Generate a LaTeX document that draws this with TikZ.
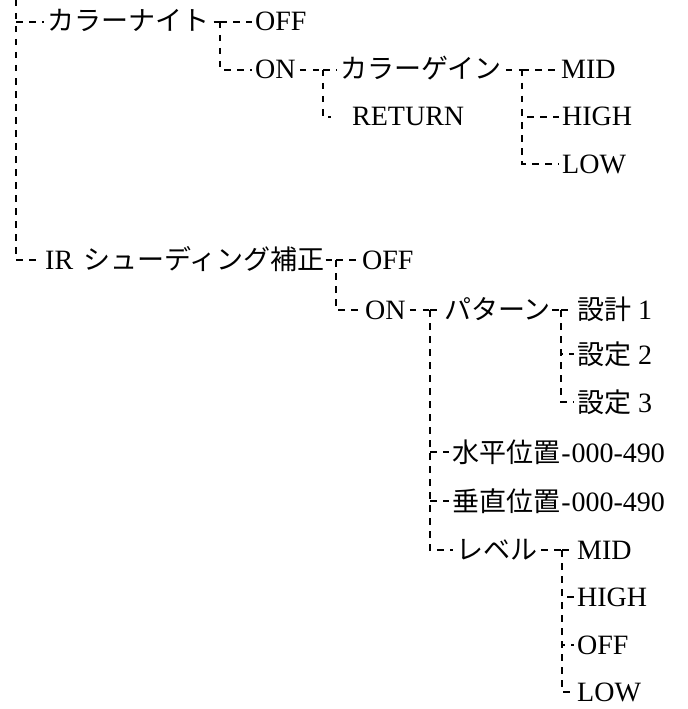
\documentclass[tikz,border=0pt]{standalone}
\usepackage{fontspec}
\setmainfont{Liberation Serif}
\newfontfamily\jp[Scale=0.965]{Noto Sans CJK JP}
\begin{document}
\begin{tikzpicture}[x=1bp,y=-1bp,
  lbl/.style={anchor=base west, inner sep=0pt, font=\fontsize{28bp}{31bp}\selectfont},
  conn/.style={line width=1.7bp, dash pattern=on 6.5bp off 6.5bp, shorten >=3bp},
  stub/.style={conn, shorten >=0pt, shorten <=4bp}]
\useasboundingbox (0,0) rectangle (688,709);
% nodes
\node[lbl] (kn) at (47,31) {\jp カラーナイト};
\node[lbl] (off1) at (255,31) {OFF};
\node[lbl] (on1) at (255,79) {ON};
\node[lbl] (cg) at (340,79) {\jp カラーゲイン};
\node[lbl] (ret) at (352,126) {RETURN};
\node[lbl] (mid1) at (561,79) {MID};
\node[lbl] (high1) at (562,126) {HIGH};
\node[lbl] (low1) at (562,173) {LOW};
\node[lbl] (ir) at (45,269) {IR\hspace{3bp} {\jp シューディング補正}};
\node[lbl] (off2) at (362,269) {OFF};
\node[lbl] (on2) at (365,319) {ON};
\node[lbl] (pat) at (444,319) {\jp パターン};
\node[lbl] (s1) at (577,319) {{\jp 設計} 1};
\node[lbl] (s2) at (577,364) {{\jp 設定} 2};
\node[lbl] (s3) at (577,412) {{\jp 設定} 3};
\node[lbl] (hp) at (452,462) {{\jp 水平位置}\hspace{1bp}-\hspace{1bp}000-490};
\node[lbl] (vp) at (452,511) {{\jp 垂直位置}\hspace{1bp}-\hspace{1bp}000-490};
\node[lbl] (lv) at (456,559) {\jp レベル};
\node[lbl] (mid2) at (577,559) {MID};
\node[lbl] (high2) at (577,606) {HIGH};
\node[lbl] (off3) at (577,654) {OFF};
\node[lbl] (low2) at (577,701) {LOW};
% junctions
\coordinate (top) at (16,0);
\coordinate (j1) at (220,22);
\coordinate (j2) at (323,70);
\coordinate (j2b) at (331,117);
\coordinate (j3) at (522,70);
\coordinate (j4) at (336,260);
\coordinate (j5) at (430,310);
\coordinate (j6) at (561,310);
\coordinate (j7) at (562,550);
% connectors
\draw[conn] (top) -- (top |- j4) -- (ir.west |- j4);
\draw[conn] (top |- j1) -- (kn.west |- j1);
\draw[stub] (kn.east |- j1) -- (j1);
\draw[conn] (j1) -- (off1.west |- j1);
\draw[conn] (j1) |- (on1.west |- j2);
\draw[stub] (on1.east |- j2) -- (j2);
\draw[conn] (j2) -- (cg.west |- j2);
\draw[conn, shorten >=0pt] (j2) |- (j2b);
\draw[stub] (cg.east |- j3) -- (j3);
\draw[conn] (j3) -- (mid1.west |- j3);
\draw[conn] (j3) |- (high1.west);
\draw[conn] (j3) |- (low1.west);
\draw[stub, shorten <=1bp] (ir.east |- j4) -- (j4);
\draw[conn] (j4) -- (off2.west |- j4);
\draw[conn] (j4) |- (on2.west |- j5);
\draw[stub] (on2.east |- j5) -- (j5);
\draw[conn] (j5) -- (pat.west |- j5);
\draw[conn] (j5) |- (lv.west |- j7);
\draw[conn] (j5 |- hp.west) -- (hp.west);
\draw[conn] (j5 |- vp.west) -- (vp.west);
\draw[stub, shorten <=1bp] (pat.east |- j6) -- (j6);
\draw[conn] (j6) -- (s1.west |- j6);
\draw[conn] (j6) |- (s2.west);
\draw[conn] (j6) |- (s3.west);
\draw[stub] (lv.east |- j7) -- (j7);
\draw[conn] (j7) -- (mid2.west |- j7);
\draw[conn] (j7) |- (high2.west);
\draw[conn] (j7) |- (off3.west);
\draw[conn] (j7) |- (low2.west);
\end{tikzpicture}
\end{document}
